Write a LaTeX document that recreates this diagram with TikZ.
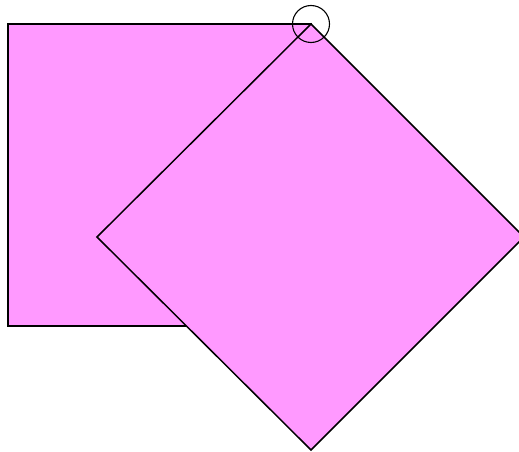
\documentclass[tikz,border=0pt]{standalone}
\definecolor{sqpink}{HTML}{FF99FF}
\begin{document}
\begin{tikzpicture}[x=1pt,y=-1pt,
  sq/.style={fill=sqpink,draw=black,line width=1.5pt,line join=miter},
  ring/.style={draw=black,line width=1.1pt}]
\useasboundingbox (0,0) rectangle (519,452);
\coordinate (corner) at (311,24);
\draw[sq] (8,24) rectangle (311,326);
\draw[sq] (corner) -- (524,237) -- (311,450) -- (97,237) -- cycle;
\draw[ring] (corner) circle (18.5);
\end{tikzpicture}
\end{document}
